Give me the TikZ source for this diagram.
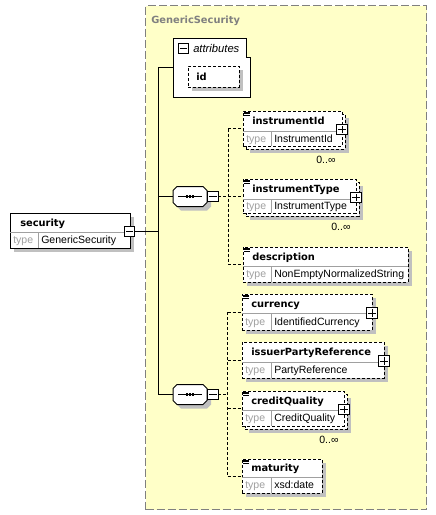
\documentclass[tikz,border=0pt]{standalone}
\usepackage{fontspec}
\setmainfont{Liberation Sans}
\newfontfamily\tfont{DejaVu Sans}
\definecolor{yel}{HTML}{FFFFC8}
\definecolor{shd}{HTML}{C0C0C0}
\definecolor{gry}{HTML}{808080}
\definecolor{typec}{HTML}{A0A0A0}
\tikzset{
  elbox/.style={draw, line width=0.75pt, dash pattern=on 2.25pt off 1.5pt, fill=white, anchor=north west, inner sep=0, outer sep=0},
  solidbox/.style={draw, line width=0.75pt, fill=white, anchor=north west, inner sep=0, outer sep=0},
  divl/.style={draw=typec, line width=0.75pt},
  ttl/.style={anchor=base west, inner sep=0, font=\tfont\bfseries\fontsize{7.4}{9}\selectfont},
  typel/.style={anchor=base west, inner sep=0, text=typec, font=\fontsize{7.9}{9}\selectfont},
  typev/.style={anchor=base west, inner sep=0, font=\fontsize{7.9}{9}\selectfont},
  multl/.style={anchor=base, inner sep=0, font=\fontsize{7.9}{9}\selectfont},
  pmbox/.style={draw, line width=1pt, fill=white, minimum size=7.9pt, inner sep=0, outer sep=0},
  conn/.style={line width=0.75pt},
  dconn/.style={line width=0.75pt, dash pattern=on 2.25pt off 1.5pt},
}
% element box: name, x, y, w, h, header height, type-divider offset, title, type
\newcommand\elem[9]{%
  \node[elbox, minimum width=#4*0.75pt, minimum height=#5*0.75pt] (#1) at (#2,#3) {};
  \draw[divl] (#2,#3+#6) -- ++(#4,0);
  \draw[divl] (#2+#7,#3+#6) -- (#2+#7,#3+#5);
  \node[ttl] (#1t) at (#2+9,#3+#6/2+3.5) {#8};
  \node[typel] (#1k) at (#2+3,#3+#6/2+#5/2+3.5) {type};
  \node[typev] (#1v) at (#2+#7+3,#3+#6/2+#5/2+3.5) {#9};
}
\newcommand\shad[4]{\fill[shd] (#1+4,#2+4) rectangle ++(#3,#4);}
% back box of a repeated element: name, x, y, w, h
\newcommand\backbox[5]{%
  \fill[shd] (#2+7,#3+7) rectangle ++(#4,#5);
  \node[elbox, minimum width=#4*0.75pt, minimum height=#5*0.75pt] (#1) at (#2+3,#3+3) {};
}
\newcommand\plusb[3]{%
  \node[pmbox] (#1) at (#2,#3) {};
  \draw[line width=0.75pt] ([xshift=-2.7pt]#1.center) -- ([xshift=2.7pt]#1.center)
    ([yshift=-2.7pt]#1.center) -- ([yshift=2.7pt]#1.center);
}
\newcommand\minusb[3]{%
  \node[pmbox] (#1) at (#2,#3) {};
  \draw[line width=0.75pt] ([xshift=-2.7pt]#1.center) -- ([xshift=2.7pt]#1.center);
}
\newcommand\eicon[2]{%
  \draw[line width=0.6pt] (#1+1,#2+1) -- ++(6,0) (#1+1,#2+2.8) -- ++(6,0) (#1+1,#2+4.6) -- ++(6,0);
}
% sequence compositor: name, cx, cy
\newcommand\seqn[3]{%
  \node[inner sep=0, outer sep=0, minimum width=25.5pt, minimum height=15pt] (#1) at (#2,#3) {};
  \fill[shd] (#2-13,#3-6) -- (#2-9,#3-6) -- (#2+17,#3-6) -- (#2+21,#3-2) -- (#2+21,#3+10)
     -- (#2+17,#3+14) -- (#2-9,#3+14) -- (#2-13,#3+10) -- cycle;
  \draw[line width=0.75pt, fill=white] (#2-17,#3-6) -- (#2-13,#3-10) -- (#2+13,#3-10) -- (#2+17,#3-6)
     -- (#2+17,#3+6) -- (#2+13,#3+10) -- (#2-13,#3+10) -- (#2-17,#3+6) -- cycle;
  \draw[line width=0.75pt] (#2-12,#3) -- (#2+12,#3);
  \foreach \d in {-3.2,0,3.2} \fill (#2+\d-1.1,#3-1.1) rectangle (#2+\d+1.1,#3+1.1);
}
\begin{document}
\begin{tikzpicture}[x=0.75pt,y=-0.75pt]
\useasboundingbox (0,0) rectangle (436,515);

% complex type container
\node[draw=gry, line width=1pt, dash pattern=on 6pt off 2.25pt, fill=yel, anchor=north west,
      inner sep=0, minimum width=281*0.75pt, minimum height=504*0.75pt] (gs) at (145,5) {};
\node[anchor=base west, inner sep=0, text=gry, font=\tfont\bfseries\fontsize{7.4}{9}\selectfont] (gst) at (151,23) {GenericSecurity};

% attributes
\node[inner sep=0, outer sep=0, anchor=north west, minimum width=77*0.75pt, minimum height=59*0.75pt] (attr) at (173,38) {};
\draw[line width=0.75pt, fill=white] (173,38) -- (246,38) -- (246,57) -- (250,57) -- (250,97) -- (173,97) -- cycle;
\minusb{attrm}{183.5}{48.5}
\node[anchor=base west, inner sep=0, font=\itshape\fontsize{8.4}{9}\selectfont] (attrt) at (193,52) {attributes};
\shad{188}{66}{51}{21}
\node[elbox, minimum width=51*0.75pt, minimum height=21*0.75pt] (idb) at (188,66) {};
\node[ttl] (idt) at (196,80) {id};

% root element
\shad{10}{213}{120}{35}
\node[solidbox, minimum width=120*0.75pt, minimum height=35*0.75pt] (sec) at (10,213) {};
\draw[divl] (10,232) -- (130,232);
\draw[divl] (38,232) -- (38,248);
\node[ttl] (sect) at (20,226) {security};
\node[typel] (seck) at (13,243.5) {type};
\node[typev] (secv) at (41,243.5) {GenericSecurity};
\minusb{secm}{129.5}{231.5}

% sequences
\seqn{s1}{190}{196.5}
\minusb{s1m}{213}{196.5}
\seqn{s2}{190}{394.5}
\minusb{s2m}{213}{394.5}

% first sequence children
\backbox{iidb}{243}{111}{99}{35}
\elem{iid}{243}{111}{99}{35}{20}{28}{instrumentId}{InstrumentId}
\eicon{243}{111}
\plusb{iidp}{342}{129.5}
\node[multl] (iidm) at (326,163) {0..∞};

\backbox{ityb}{243}{179}{113}{34}
\elem{ity}{243}{179}{113}{34}{20}{28}{instrumentType}{InstrumentType}
\eicon{243}{179}
\plusb{ityp}{356}{197.5}
\node[multl] (itym) at (341,230.5) {0..∞};

\shad{243}{247}{165}{35}
\elem{desc}{243}{247}{165}{35}{19}{28}{description}{NonEmptyNormalizedString}
\eicon{243}{247}

% second sequence children
\shad{242}{294}{130}{36}
\elem{cur}{242}{294}{130}{36}{19}{29}{currency}{IdentifiedCurrency}
\eicon{242}{294}
\plusb{curp}{372}{313}

\shad{242}{342}{142}{36}
\elem{ipr}{242}{342}{142}{36}{20}{29}{issuerPartyReference}{PartyReference}
\plusb{iprp}{384}{361}

\backbox{cqb}{242}{391}{102}{35}
\elem{cq}{242}{391}{102}{35}{19}{29}{creditQuality}{CreditQuality}
\eicon{242}{391}
\plusb{cqp}{344}{409.5}
\node[multl] (cqm) at (329,443) {0..∞};

\shad{242}{459}{80}{34}
\elem{mat}{242}{459}{80}{34}{18}{29}{maturity}{xsd:date}
\eicon{242}{459}

% connectors
\coordinate (mj) at (158,231.5);
\draw[conn] (secm.east) -- (mj);
\draw[conn] (mj |- attr.west) -- (mj |- s2.west);
\draw[conn] (mj |- attr.west) -- (attr.west);
\draw[conn] (mj |- s1.west) -- (s1.west);
\draw[conn] (mj |- s2.west) -- (s2.west);

\coordinate (j1) at (228,196.5);
\draw[dconn] (s1m.east) -- (j1);
\draw[dconn] (j1 |- iid.west) -- (j1 |- desc.west);
\draw[dconn] (j1 |- iid.west) -- (iid.west);
\draw[dconn] (j1 |- ity.west) -- (ity.west);
\draw[dconn] (j1 |- desc.west) -- (desc.west);

\coordinate (j2) at (227.5,394.5);
\draw[dconn] (s2m.east) -- (j2);
\draw[dconn] (j2 |- cur.west) -- (j2 |- mat.west);
\draw[dconn] (j2 |- cur.west) -- (cur.west);
\draw[dconn] (j2 |- ipr.west) -- (ipr.west);
\draw[dconn] (j2 |- cq.west) -- (cq.west);
\draw[dconn] (j2 |- mat.west) -- (mat.west);
\end{tikzpicture}
\end{document}
